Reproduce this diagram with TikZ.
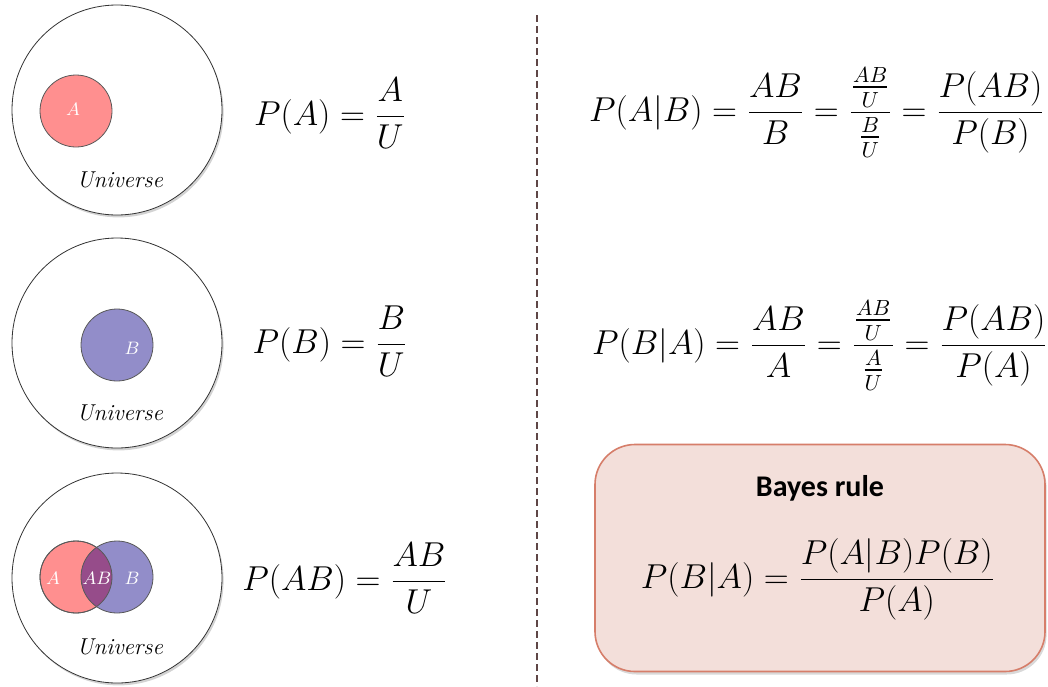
\documentclass[tikz,border=0pt]{standalone}
\usepackage{amsmath}
\usepackage{fontspec}
\newfontfamily\carlito{Carlito}
\usetikzlibrary{positioning,shadows}
\definecolor{setA}{RGB}{255,143,143}
\definecolor{setB}{RGB}{146,141,201}
\definecolor{setAB}{RGB}{150,76,138}
\definecolor{boxfill}{RGB}{243,223,218}
\definecolor{boxline}{RGB}{214,126,106}
\definecolor{sepline}{RGB}{95,70,70}

\begin{document}
\begin{tikzpicture}[x=0.5pt, y=-0.5pt,
    universe/.style={circle, draw=black!80, fill=white, minimum size=105pt,
                     drop shadow={opacity=0.35, shadow xshift=0.8pt, shadow yshift=-1.2pt}},
    event/.style={circle, draw=black!65, minimum size=36pt, inner sep=0pt},
    ulabel/.style={font=\fontsize{11.5}{13}\selectfont\itshape},
    elabel/.style={text=white, inner sep=0pt, font=\fontsize{9.5}{11}\selectfont},
    formula/.style={anchor=base, inner sep=0pt, font=\fontsize{16.3}{20}\selectfont},
    bayesbox/.style={rectangle, rounded corners=20pt, draw=boxline, line width=0.8pt,
                     fill=boxfill, minimum width=225pt, minimum height=113.5pt,
                     drop shadow={opacity=0.3, shadow xshift=0.8pt, shadow yshift=-1.5pt}}
  ]
    \useasboundingbox (0,0) rectangle (1048,686);

    \node[universe] (u1) at (117,110) {};
    \node[universe] (u2) at (117,343) {};
    \node[universe] (u3) at (117,578) {};

    \node[event, fill=setA] (a1) at (76,111) {};
    \node[elabel] at (73,109) {$A$};
    \node[ulabel] (l1) at (120,180) {Universe};

    \node[event, fill=setB] (b2) at (117,345) {};
    \node[elabel] at (132,348) {$B$};
    \node[ulabel] (l2) at (120,413) {Universe};

    \node[event, fill=setA] (a3) at (76,577) {};
    \node[event, fill=setB, path picture={\fill[setAB] (a3.center) circle [radius=18pt];}] (b3) at (117,577) {};
    \draw[black!65] (a3.center) circle [radius=18pt];
    \node[elabel] at (53,578) {$A$};
    \node[elabel] at (97,578) {$AB$};
    \node[elabel] at (132,578) {$B$};
    \node[ulabel] (l3) at (120,647) {Universe};

    \node[formula] (pa)  at (330,125) {$\displaystyle P(A)=\frac{A}{U}$};
    \node[formula] (pb)  at (330,353) {$\displaystyle P(B)=\frac{B}{U}$};
    \node[formula] (pab) at (345,590) {$\displaystyle P(AB)=\frac{AB}{U}$};

    \coordinate (septop) at (537,15);
    \coordinate (sepbot) at (537,686);
    \draw[sepline, line width=0.8pt, dash pattern=on 3.5pt off 2pt] (septop) -- (sepbot);

    \node[formula] (pagb) at (817,121)
      {$\displaystyle P(A|B)=\frac{AB}{B}=\frac{\frac{AB}{U}}{\frac{B}{U}}=\frac{P(AB)}{P(B)}$};
    \node[formula] (pbga) at (820,354)
      {$\displaystyle P(B|A)=\frac{AB}{A}=\frac{\frac{AB}{U}}{\frac{A}{U}}=\frac{P(AB)}{P(A)}$};

    \node[bayesbox] (bayes) at (820,558) {};
    \node[font=\carlito\bfseries\fontsize{15}{17}\selectfont] (title) at (820,488) {Bayes rule};
    \node[formula] (rule) at (818,588) {$\displaystyle P(B|A)=\frac{P(A|B)P(B)}{P(A)}$};
  \end{tikzpicture}
\end{document}
